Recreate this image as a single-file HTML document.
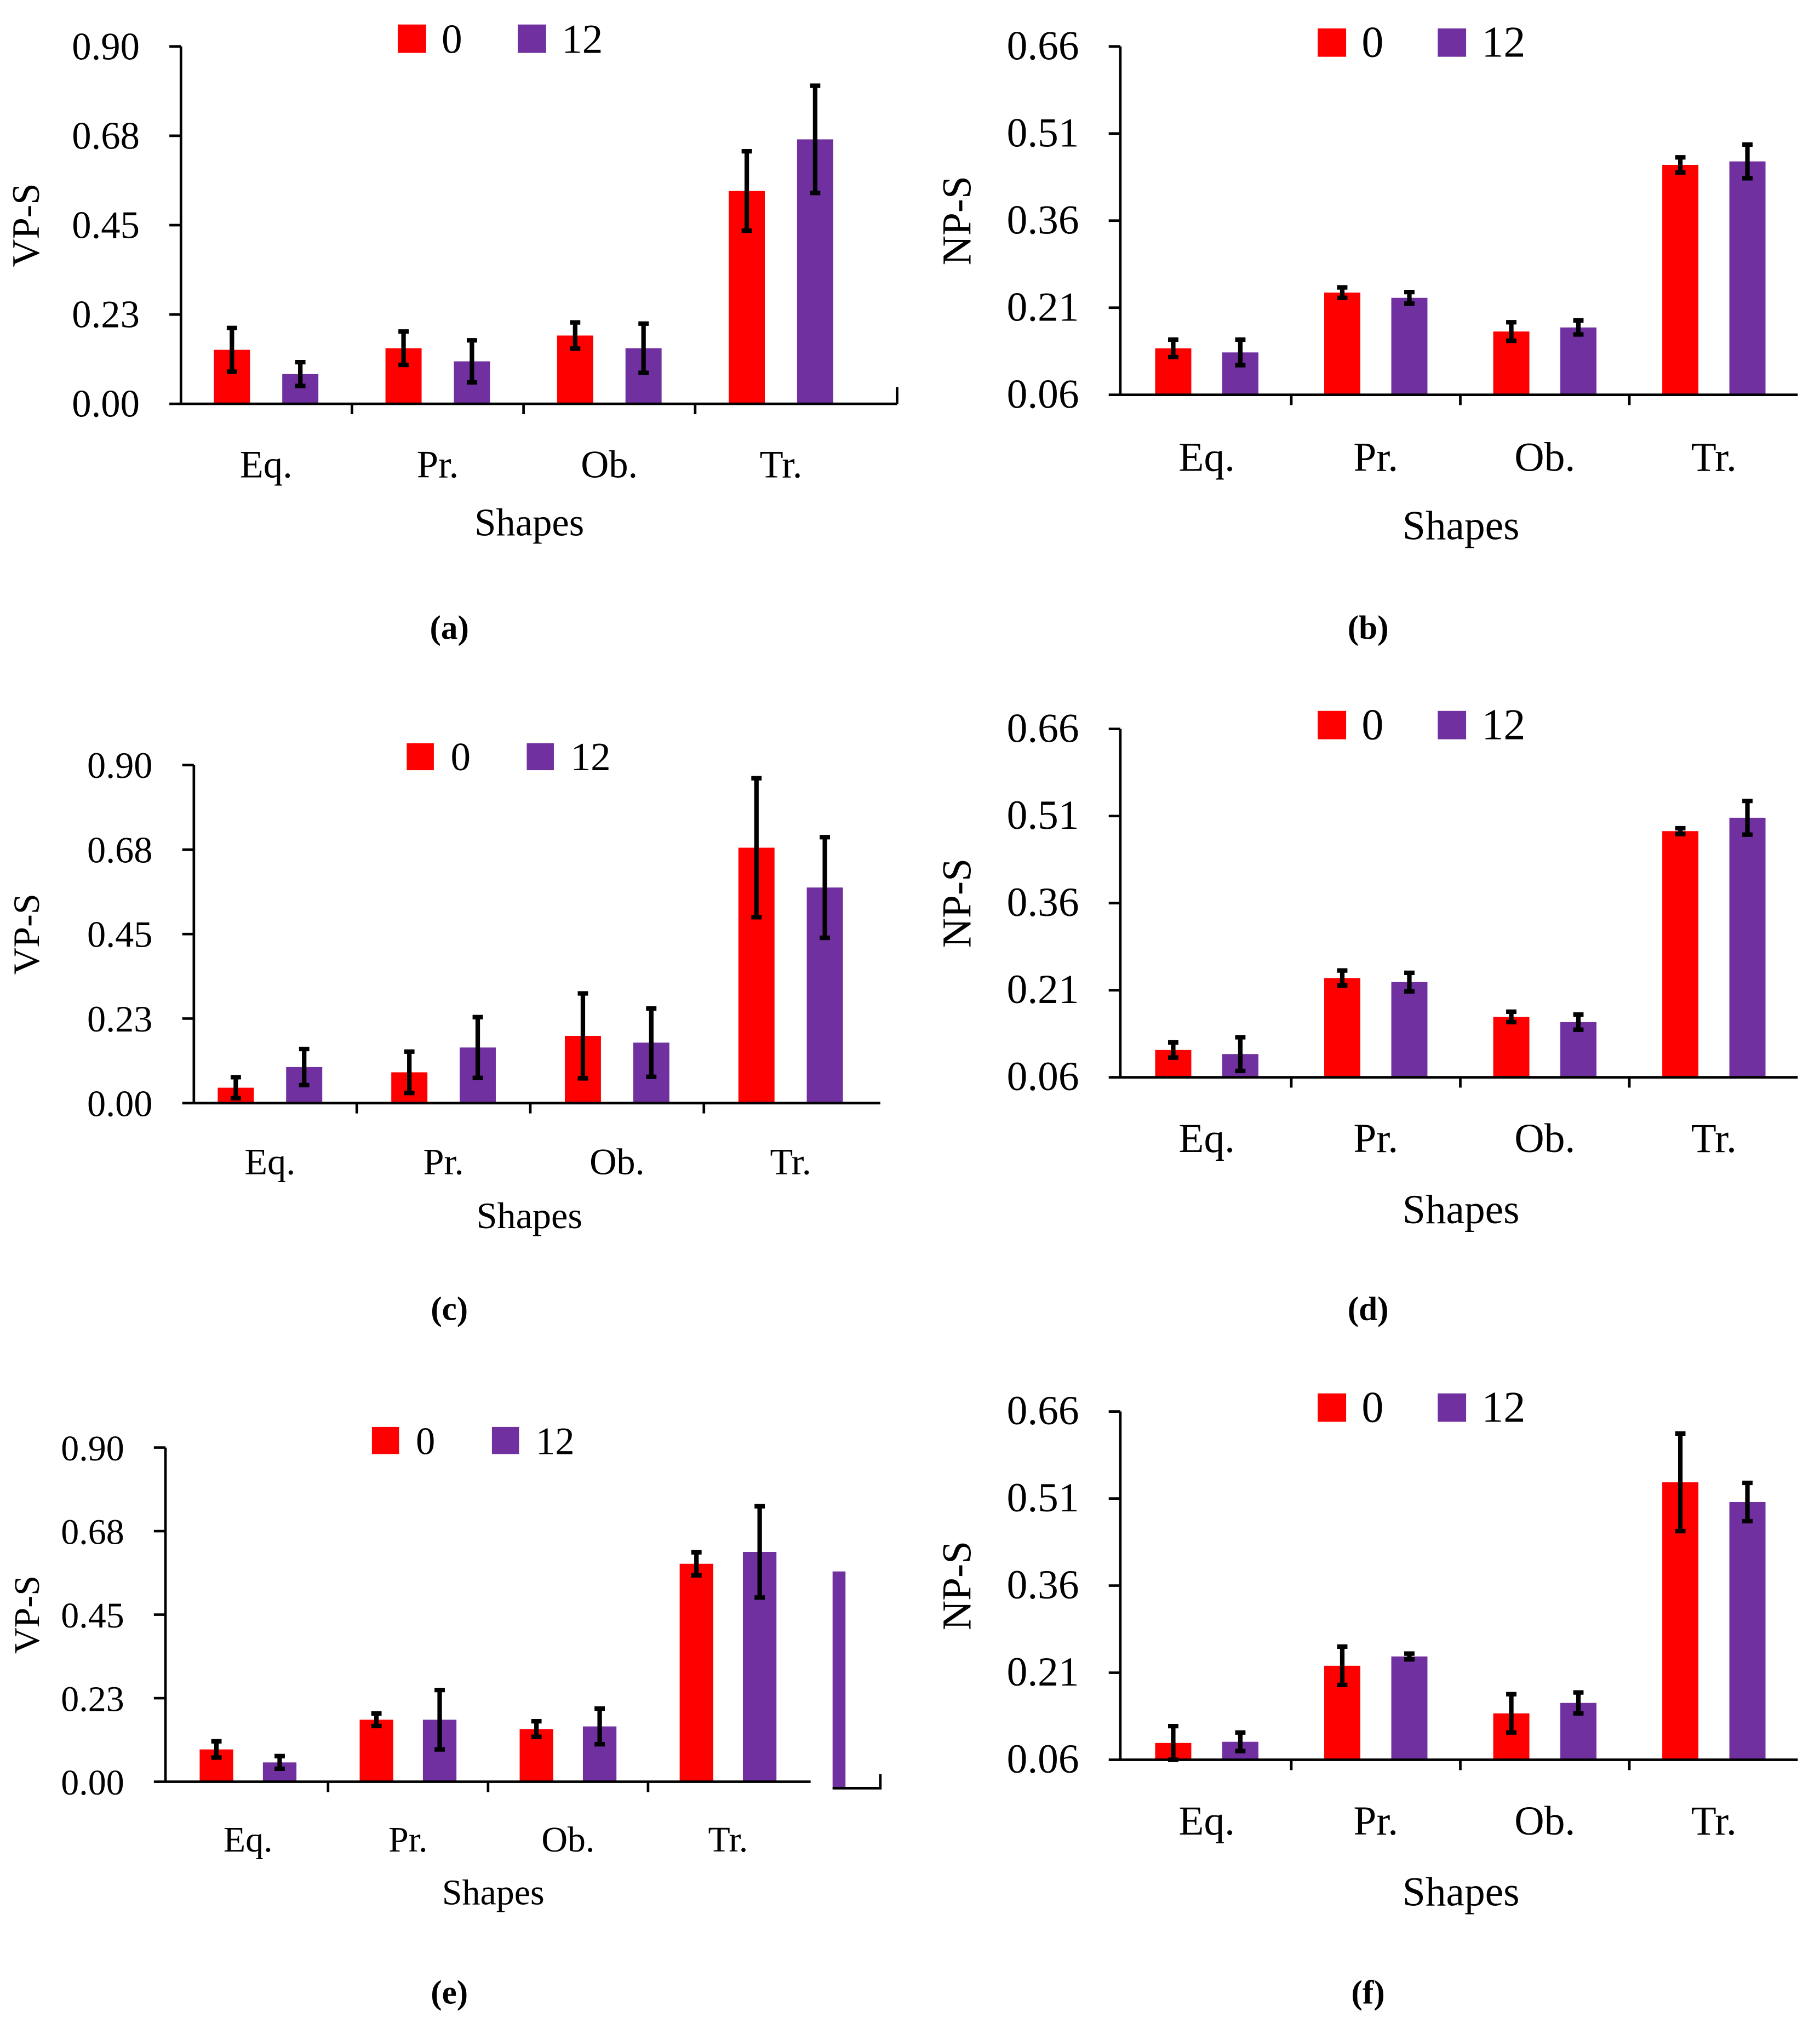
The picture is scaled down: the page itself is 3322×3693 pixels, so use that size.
<!DOCTYPE html>
<html><head><meta charset="utf-8">
<style>
html,body{margin:0;padding:0;background:#fff;}
svg{display:block;}
text{font-family:"Liberation Serif",serif;fill:#000;}
</style></head>
<body>
<svg id="fig" width="3322" height="3693" viewBox="0 0 1410 1568" xmlns="http://www.w3.org/2000/svg"></svg>
<script>
const categories = ["Eq.","Pr.","Ob.","Tr."];
const seriesNames = ["0","12"];
const vpTicks = ["0.00","0.23","0.45","0.68","0.90"];
const npTicks = ["0.06","0.21","0.36","0.51","0.66"];
// panel (a)
const aRed = [0.136,0.14,0.172,0.536];  const aRedErr = [0.055,0.042,0.033,0.1];
const aPur = [0.075,0.107,0.14,0.666];  const aPurErr = [0.03,0.053,0.062,0.135];
// panel (b)
const bRed = [0.14,0.236,0.169,0.456];  const bRedErr = [0.015,0.009,0.016,0.013];
const bPur = [0.133,0.227,0.176,0.462]; const bPurErr = [0.022,0.01,0.012,0.029];
// panel (c)
const cRed = [0.041,0.082,0.179,0.68];  const cRedErr = [0.028,0.055,0.113,0.185];
const cPur = [0.096,0.148,0.161,0.574]; const cPurErr = [0.048,0.081,0.091,0.134];
// panel (d)
const dRed = [0.107,0.231,0.164,0.484]; const dRedErr = [0.013,0.013,0.009,0.005];
const dPur = [0.1,0.224,0.155,0.507];   const dPurErr = [0.029,0.016,0.013,0.029];
// panel (e)
const eRed = [0.087,0.167,0.142,0.587]; const eRedErr = [0.022,0.017,0.021,0.031];
const ePur = [0.052,0.167,0.149,0.619]; const ePurErr = [0.017,0.08,0.048,0.123];
// panel (f)
const fRed = [0.089,0.222,0.14,0.538];  const fRedErr = [0.029,0.033,0.033,0.084];
const fPur = [0.091,0.238,0.158,0.504]; const fPurErr = [0.016,0.005,0.018,0.033];

const NS="http://www.w3.org/2000/svg";
const svg=document.getElementById('fig');
function mk(tag,attrs,parent){const e=document.createElementNS(NS,tag);for(const k in attrs)e.setAttribute(k,attrs[k]);(parent||svg).appendChild(e);return e;}
function txt(s,attrs,parent){const e=mk('text',attrs,parent);e.textContent=s;return e;}

const panels=[
 {id:'a',ax:140,top:36,bot:313,right:695,min:0,max:0.9,ticks:vpTicks,title:'VP-S',red:aRed,re:aRedErr,pur:aPur,pe:aPurErr,c0:206,step:133,off:26.5,bw:28,lgX:308,lgY:19,catY:370,shY:415,shX:410,capY:495,capX:348,titleX:30,fs:28},
 {id:'b',ax:868,top:36,bot:306,right:1393,min:0.06,max:0.66,ticks:npTicks,title:'NP-S',red:bRed,re:bRedErr,pur:bPur,pe:bPurErr,c0:935,step:131,off:26,bw:28,lgX:1021,lgY:22,catY:365,shY:418,shX:1132,capY:495,capX:1060,titleX:752,fs:30},
 {id:'c',ax:150,top:593,bot:855,right:682,min:0,max:0.9,ticks:vpTicks,title:'VP-S',red:cRed,re:cRedErr,pur:cPur,pe:cPurErr,c0:209,step:134.5,off:26.5,bw:28,lgX:315,lgY:576,catY:910,shY:952,shX:410,capY:1023,capX:348,titleX:30,fs:27},
 {id:'d',ax:868,top:565,bot:835,right:1393,min:0.06,max:0.66,ticks:npTicks,title:'NP-S',red:dRed,re:dRedErr,pur:dPur,pe:dPurErr,c0:935,step:131,off:26,bw:28,lgX:1021,lgY:551,catY:893,shY:948,shX:1132,capY:1023,capX:1060,titleX:752,fs:30},
 {id:'e',ax:128,top:1122,bot:1381,right:628,min:0,max:0.9,ticks:vpTicks,title:'VP-S',red:eRed,re:eRedErr,pur:ePur,pe:ePurErr,c0:192,step:124,off:24.5,bw:26,lgX:288,lgY:1106,catY:1435,shY:1476,shX:382,capY:1553,capX:348,titleX:30,fs:26},
 {id:'f',ax:868,top:1094,bot:1364,right:1393,min:0.06,max:0.66,ticks:npTicks,title:'NP-S',red:fRed,re:fRedErr,pur:fPur,pe:fPurErr,c0:935,step:131,off:26,bw:28,lgX:1021,lgY:1080,catY:1422,shY:1477,shX:1132,capY:1553,capX:1060,titleX:752,fs:30}
];

panels.forEach(p=>{
  const g=mk('g',{});
  
  
  const y=v=>p.bot-(v-p.min)/(p.max-p.min)*(p.bot-p.top);
  const series=[{vals:p.red,err:p.re,col:'#ff0000',dx:-p.off,n:'red'},{vals:p.pur,err:p.pe,col:'#7030a0',dx:p.off,n:'purple'}];
  series.forEach(s=>{
    s.vals.forEach((v,i)=>{
      const cx=p.c0+i*p.step+s.dx;
      const r=mk('rect',{x:cx-p.bw/2,y:y(v),width:p.bw,height:p.bot-y(v),fill:s.col},g);
      
      
    });
  });
  series.forEach(s=>{
    s.vals.forEach((v,i)=>{
      const cx=p.c0+i*p.step+s.dx;
      const y1=y(v+s.err[i]),y2=y(v-s.err[i]);
      const eb=mk('path',{d:`M${cx},${y1}V${y2}M${cx-4},${y1}H${cx+4}M${cx-4},${y2}H${cx+4}`,stroke:'#000','stroke-width':3.5,fill:'none'},g);
      
      
    });
  });
  const ya=mk('line',{x1:p.ax,y1:p.top,x2:p.ax,y2:p.bot,stroke:'#000','stroke-width':2},g);
  
  
  const xa=mk('line',{x1:p.ax,y1:p.bot,x2:p.right,y2:p.bot,stroke:'#000','stroke-width':2},g);
  
  
  p.ticks.forEach((t,i)=>{
    const ty=p.bot-i*(p.bot-p.top)/(p.ticks.length-1);
    mk('line',{x1:p.ax-9,y1:ty,x2:p.ax,y2:ty,stroke:'#000','stroke-width':2},g);
    const tl=txt(t,{x:p.ax-32,y:ty+10,'text-anchor':'end','font-size':p.fs+2},g);
    
    
  });
  categories.forEach((c,i)=>{
    const cx=p.c0+i*p.step;
    if(i>0) mk('line',{x1:cx-p.step/2,y1:p.bot,x2:cx-p.step/2,y2:p.bot+8,stroke:'#000','stroke-width':2},g);
    const cl=txt(c,{x:cx,y:p.catY,'text-anchor':'middle','font-size':p.fs+2},g);
    
    
  });
  const xt=txt('Shapes',{x:p.shX,y:p.shY,'text-anchor':'middle','font-size':p.fs+2},g);
  
  
  const yt=txt(p.title,{x:0,y:0,'text-anchor':'middle','font-size':p.fs+2,transform:`translate(${p.titleX},${(p.top+p.bot)/2}) rotate(-90)`},g);
  
  
  const cap=txt('('+p.id+')',{x:p.capX,y:p.capY,'text-anchor':'middle','font-size':26,'font-weight':'bold'},g);
  
  
  const sz=p.fs<28?21:22;
  [['#ff0000','0',0],['#7030a0','12',93]].forEach(L=>{
    const lg=mk('g',{},g);
    
    
    mk('rect',{x:p.lgX+L[2],y:p.lgY,width:sz,height:sz,fill:L[0]},lg);
    txt(L[1],{x:p.lgX+L[2]+34,y:p.lgY+sz,'font-size':p.fs+4},lg);
  });
});
const s1=mk('path',{d:'M695,300V313',stroke:'#000','stroke-width':2,fill:'none'});


const s2=mk('rect',{x:645,y:1218,width:10,height:168,fill:'#7030a0'});


const s3=mk('path',{d:'M645,1386H682V1375',stroke:'#000','stroke-width':2,fill:'none'});


</script>
</body></html>
